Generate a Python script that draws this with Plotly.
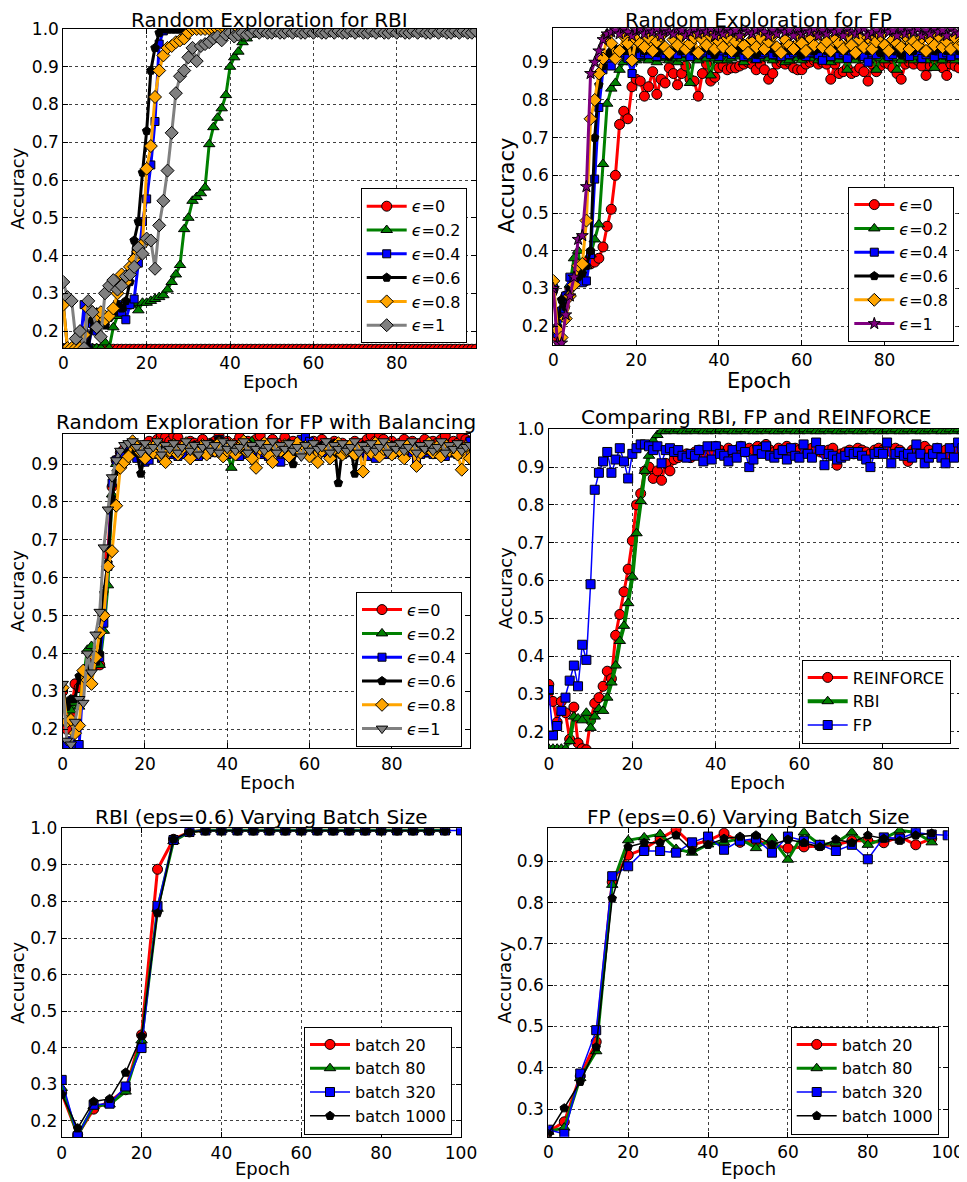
import plotly.graph_objects as go

# The page body has a default 8px margin, so the figure is drawn 8px smaller
# and every reference pixel position is shifted by that offset.
OFF = 8
W, H = 967 - OFF, 1182 - OFF

# ---------------- data ----------------
epochs = list(range(100))
batch_x_short = [0, 4, 8, 12, 16, 20, 24, 28, 32, 36, 40, 44, 48, 52, 56, 60, 64, 68, 72, 76, 80, 84, 88, 92, 96]
batch_x_long = [0, 4, 8, 12, 16, 20, 24, 28, 32, 36, 40, 44, 48, 52, 56, 60, 64, 68, 72, 76, 80, 84, 88, 92, 96, 100]

eps_labels = ["0", "0.2", "0.4", "0.6", "0.8", "1"]
cmp_labels = ["REINFORCE", "RBI", "FP"]
batch_labels = ["batch 20", "batch 80", "batch 320", "batch 1000"]

# Panel 1: Random Exploration for RBI
rbi_eps0 = [0.152, 0.152, 0.152, 0.152, 0.152, 0.152, 0.152, 0.152, 0.152, 0.152,
            0.152, 0.152, 0.152, 0.152, 0.152, 0.152, 0.152, 0.152, 0.152, 0.152,
            0.152, 0.152, 0.152, 0.152, 0.152, 0.152, 0.152, 0.152, 0.152, 0.152,
            0.152, 0.152, 0.152, 0.152, 0.152, 0.152, 0.152, 0.152, 0.152, 0.152,
            0.152, 0.152, 0.152, 0.152, 0.152, 0.152, 0.152, 0.152, 0.152, 0.152,
            0.152, 0.152, 0.152, 0.152, 0.152, 0.152, 0.152, 0.152, 0.152, 0.152,
            0.152, 0.152, 0.152, 0.152, 0.152, 0.152, 0.152, 0.152, 0.152, 0.152,
            0.152, 0.152, 0.152, 0.152, 0.152, 0.152, 0.152, 0.152, 0.152, 0.152,
            0.152, 0.152, 0.152, 0.152, 0.152, 0.152, 0.152, 0.152, 0.152, 0.152,
            0.152, 0.152, 0.152, 0.152, 0.152, 0.152, 0.152, 0.152, 0.152, 0.152]
rbi_eps02 = [0.155, 0.155, 0.155, 0.155, 0.155, 0.155, 0.155, 0.155, 0.155, 0.155,
             0.170, 0.155, 0.210, 0.240, 0.260, 0.265, 0.270, 0.275, 0.255, 0.275,
             0.275, 0.280, 0.285, 0.290, 0.295, 0.310, 0.330, 0.350, 0.375, 0.470,
             0.500, 0.545, 0.555, 0.565, 0.580, 0.695, 0.740, 0.765, 0.790, 0.825,
             0.900, 0.925, 0.940, 0.965, 0.975, 0.985, 0.990, 0.995, 0.995, 1.000,
             0.995, 1.000, 0.995, 0.995, 1.000, 0.995, 1.000, 0.995, 0.995, 1.000,
             0.995, 1.000, 0.995, 1.000, 0.995, 0.995, 1.000, 0.995, 1.000, 0.995,
             0.995, 1.000, 0.995, 1.000, 0.995, 0.995, 1.000, 0.995, 1.000, 0.995,
             0.995, 1.000, 0.995, 1.000, 0.995, 0.995, 1.000, 0.995, 1.000, 0.995,
             0.995, 1.000, 0.995, 1.000, 0.995, 0.995, 1.000, 0.995, 1.000, 0.995]
rbi_eps04 = [0.155, 0.155, 0.155, 0.155, 0.155, 0.270, 0.155, 0.220, 0.200, 0.230,
             0.220, 0.240, 0.250, 0.270, 0.250, 0.230, 0.270, 0.285, 0.380, 0.490,
             0.550, 0.640, 0.755, 0.960, 0.995, 1.000, 1.000, 1.000, 1.000, 1.000,
             1.000, 1.000, 1.000, 1.000, 1.000, 1.000, 1.000, 1.000, 1.000, 1.000,
             1.000, 1.000, 1.000, 1.000, 1.000, 1.000, 1.000, 1.000, 1.000, 1.000,
             1.000, 1.000, 1.000, 1.000, 1.000, 1.000, 1.000, 1.000, 1.000, 1.000,
             1.000, 1.000, 1.000, 1.000, 1.000, 1.000, 1.000, 1.000, 1.000, 1.000,
             1.000, 1.000, 1.000, 1.000, 1.000, 1.000, 1.000, 1.000, 1.000, 1.000,
             1.000, 1.000, 1.000, 1.000, 1.000, 1.000, 1.000, 1.000, 1.000, 1.000,
             1.000, 1.000, 1.000, 1.000, 1.000, 1.000, 1.000, 1.000, 1.000, 1.000]
rbi_eps06 = [0.270, 0.155, 0.155, 0.155, 0.155, 0.200, 0.155, 0.230, 0.250, 0.220,
             0.215, 0.235, 0.250, 0.270, 0.260, 0.280, 0.330, 0.440, 0.490, 0.620,
             0.730, 0.890, 0.950, 0.990, 1.000, 1.000, 1.000, 1.000, 1.000, 1.000,
             1.000, 1.000, 1.000, 1.000, 1.000, 1.000, 1.000, 1.000, 1.000, 1.000,
             1.000, 1.000, 1.000, 1.000, 1.000, 1.000, 1.000, 1.000, 1.000, 1.000,
             1.000, 1.000, 1.000, 1.000, 1.000, 1.000, 1.000, 1.000, 1.000, 1.000,
             1.000, 1.000, 1.000, 1.000, 1.000, 1.000, 1.000, 1.000, 1.000, 1.000,
             1.000, 1.000, 1.000, 1.000, 1.000, 1.000, 1.000, 1.000, 1.000, 1.000,
             1.000, 1.000, 1.000, 1.000, 1.000, 1.000, 1.000, 1.000, 1.000, 1.000,
             1.000, 1.000, 1.000, 1.000, 1.000, 1.000, 1.000, 1.000, 1.000, 1.000]
rbi_eps08 = [0.270, 0.155, 0.155, 0.155, 0.155, 0.190, 0.260, 0.250, 0.240, 0.250,
             0.230, 0.240, 0.260, 0.300, 0.350, 0.330, 0.370, 0.390, 0.410, 0.430,
             0.630, 0.690, 0.820, 0.890, 0.930, 0.950, 0.955, 0.965, 0.970, 0.975,
             0.990, 1.000, 1.000, 1.000, 1.000, 1.000, 1.000, 1.000, 1.000, 1.000,
             1.000, 1.000, 1.000, 1.000, 1.000, 1.000, 1.000, 1.000, 1.000, 1.000,
             1.000, 1.000, 1.000, 1.000, 1.000, 1.000, 1.000, 1.000, 1.000, 1.000,
             1.000, 1.000, 1.000, 1.000, 1.000, 1.000, 1.000, 1.000, 1.000, 1.000,
             1.000, 1.000, 1.000, 1.000, 1.000, 1.000, 1.000, 1.000, 1.000, 1.000,
             1.000, 1.000, 1.000, 1.000, 1.000, 1.000, 1.000, 1.000, 1.000, 1.000,
             1.000, 1.000, 1.000, 1.000, 1.000, 1.000, 1.000, 1.000, 1.000, 1.000]
rbi_eps1 = [0.330, 0.290, 0.280, 0.180, 0.200, 0.155, 0.280, 0.250, 0.210, 0.185,
            0.300, 0.320, 0.335, 0.310, 0.320, 0.345, 0.350, 0.370, 0.420, 0.405,
            0.445, 0.440, 0.365, 0.480, 0.545, 0.625, 0.725, 0.830, 0.875, 0.890,
            0.925, 0.950, 0.915, 0.955, 0.960, 0.965, 0.975, 0.980, 0.970, 0.985,
            0.990, 0.980, 0.985, 0.990, 0.985, 0.990, 0.995, 0.990, 0.995, 0.990,
            0.990, 0.995, 0.990, 0.990, 0.995, 0.990, 0.995, 0.990, 0.990, 0.995,
            0.990, 0.995, 0.990, 0.990, 0.995, 0.990, 0.995, 0.990, 0.990, 0.995,
            0.990, 0.995, 0.990, 0.990, 0.995, 0.990, 0.995, 0.990, 0.990, 0.995,
            0.990, 0.995, 0.990, 0.990, 0.995, 0.990, 0.995, 0.990, 0.990, 0.995,
            0.990, 0.995, 0.990, 0.990, 0.995, 0.990, 0.995, 0.990, 0.990, 0.995]

# Panel 2: Random Exploration for FP
fp_eps0 = [0.300, 0.170, 0.240, 0.280, 0.300, 0.320, 0.350, 0.360, 0.370, 0.365,
           0.370, 0.380, 0.410, 0.465, 0.510, 0.600, 0.735, 0.770, 0.750, 0.835,
           0.855, 0.850, 0.810, 0.835, 0.875, 0.815, 0.855, 0.845, 0.885, 0.870,
           0.840, 0.870, 0.890, 0.855, 0.850, 0.810, 0.870, 0.895, 0.850, 0.860,
           0.885, 0.890, 0.880, 0.885, 0.885, 0.890, 0.895, 0.900, 0.895, 0.880,
           0.895, 0.880, 0.855, 0.870, 0.895, 0.900, 0.895, 0.900, 0.885, 0.880,
           0.880, 0.895, 0.900, 0.905, 0.895, 0.900, 0.895, 0.855, 0.895, 0.870,
           0.875, 0.885, 0.870, 0.875, 0.885, 0.875, 0.850, 0.895, 0.875, 0.890,
           0.900, 0.895, 0.885, 0.870, 0.855, 0.895, 0.900, 0.895, 0.905, 0.890,
           0.865, 0.890, 0.895, 0.900, 0.885, 0.865, 0.895, 0.890, 0.885, 0.900]
fp_eps02 = [0.310, 0.190, 0.220, 0.280, 0.310, 0.380, 0.400, 0.315, 0.360, 0.390,
            0.430, 0.470, 0.630, 0.790, 0.830, 0.845, 0.880, 0.900, 0.910, 0.900,
            0.905, 0.910, 0.915, 0.905, 0.920, 0.900, 0.910, 0.915, 0.905, 0.910,
            0.900, 0.910, 0.920, 0.845, 0.910, 0.905, 0.915, 0.910, 0.865, 0.910,
            0.905, 0.915, 0.905, 0.910, 0.920, 0.915, 0.900, 0.910, 0.915, 0.905,
            0.910, 0.920, 0.910, 0.905, 0.915, 0.910, 0.900, 0.905, 0.915, 0.910,
            0.905, 0.915, 0.910, 0.920, 0.905, 0.910, 0.915, 0.900, 0.910, 0.905,
            0.915, 0.880, 0.910, 0.905, 0.915, 0.910, 0.905, 0.915, 0.880, 0.910,
            0.905, 0.915, 0.910, 0.880, 0.905, 0.915, 0.910, 0.905, 0.915, 0.910,
            0.905, 0.920, 0.885, 0.910, 0.905, 0.915, 0.910, 0.905, 0.915, 0.920]
fp_eps04 = [0.300, 0.180, 0.240, 0.280, 0.330, 0.320, 0.330, 0.315, 0.320, 0.390,
            0.590, 0.780, 0.880, 0.910, 0.890, 0.915, 0.920, 0.925, 0.910, 0.870,
            0.915, 0.920, 0.925, 0.920, 0.930, 0.915, 0.925, 0.920, 0.930, 0.925,
            0.920, 0.930, 0.925, 0.915, 0.930, 0.920, 0.925, 0.930, 0.920, 0.925,
            0.915, 0.930, 0.925, 0.920, 0.930, 0.925, 0.915, 0.920, 0.930, 0.910,
            0.920, 0.925, 0.930, 0.920, 0.925, 0.915, 0.930, 0.920, 0.925, 0.930,
            0.920, 0.915, 0.925, 0.930, 0.920, 0.905, 0.925, 0.915, 0.930, 0.920,
            0.925, 0.910, 0.930, 0.920, 0.925, 0.915, 0.900, 0.925, 0.920, 0.930,
            0.925, 0.915, 0.920, 0.930, 0.925, 0.920, 0.915, 0.930, 0.925, 0.910,
            0.920, 0.925, 0.915, 0.930, 0.920, 0.925, 0.915, 0.930, 0.920, 0.925]
fp_eps06 = [0.290, 0.200, 0.270, 0.250, 0.300, 0.310, 0.330, 0.340, 0.360, 0.400,
            0.700, 0.840, 0.890, 0.920, 0.930, 0.935, 0.935, 0.930, 0.940, 0.925,
            0.935, 0.940, 0.930, 0.945, 0.935, 0.925, 0.940, 0.930, 0.915, 0.935,
            0.940, 0.930, 0.935, 0.945, 0.930, 0.925, 0.935, 0.940, 0.930, 0.920,
            0.935, 0.945, 0.930, 0.935, 0.925, 0.940, 0.930, 0.935, 0.945, 0.920,
            0.935, 0.930, 0.940, 0.935, 0.925, 0.940, 0.935, 0.930, 0.945, 0.930,
            0.920, 0.935, 0.940, 0.930, 0.935, 0.945, 0.930, 0.925, 0.940, 0.935,
            0.930, 0.945, 0.935, 0.920, 0.935, 0.940, 0.930, 0.935, 0.945, 0.925,
            0.935, 0.940, 0.930, 0.935, 0.920, 0.940, 0.935, 0.930, 0.945, 0.935,
            0.925, 0.940, 0.930, 0.935, 0.945, 0.930, 0.935, 0.940, 0.930, 0.935]
fp_eps08 = [0.320, 0.190, 0.170, 0.220, 0.280, 0.310, 0.360, 0.365, 0.480, 0.750,
            0.800, 0.870, 0.910, 0.970, 0.950, 0.910, 0.930, 0.970, 0.950, 0.905,
            0.960, 0.950, 0.940, 0.965, 0.930, 0.955, 0.970, 0.940, 0.925, 0.960,
            0.945, 0.970, 0.935, 0.950, 0.965, 0.925, 0.960, 0.945, 0.970, 0.935,
            0.955, 0.940, 0.965, 0.930, 0.955, 0.970, 0.945, 0.925, 0.960, 0.940,
            0.965, 0.935, 0.955, 0.970, 0.940, 0.925, 0.960, 0.945, 0.935, 0.970,
            0.950, 0.930, 0.965, 0.945, 0.975, 0.940, 0.955, 0.930, 0.965, 0.950,
            0.935, 0.970, 0.945, 0.925, 0.960, 0.940, 0.965, 0.935, 0.955, 0.970,
            0.945, 0.930, 0.960, 0.950, 0.940, 0.970, 0.935, 0.955, 0.945, 0.965,
            0.930, 0.960, 0.945, 0.970, 0.940, 0.955, 0.935, 0.965, 0.945, 0.950]
fp_eps1 = [0.300, 0.155, 0.155, 0.230, 0.280, 0.330, 0.430, 0.440, 0.570, 0.870,
           0.900, 0.930, 0.960, 0.975, 0.980, 0.985, 0.975, 0.990, 0.980, 0.970,
           0.985, 0.990, 0.975, 0.985, 0.980, 0.990, 0.970, 0.985, 0.980, 0.975,
           0.990, 0.985, 0.970, 0.980, 0.990, 0.975, 0.985, 0.980, 0.990, 0.970,
           0.985, 0.975, 0.990, 0.980, 0.985, 0.970, 0.990, 0.980, 0.975, 0.985,
           0.990, 0.980, 0.970, 0.985, 0.975, 0.990, 0.980, 0.985, 0.970, 0.990,
           0.975, 0.985, 0.980, 0.990, 0.970, 0.985, 0.975, 0.990, 0.980, 0.985,
           0.970, 0.990, 0.980, 0.975, 0.985, 0.990, 0.970, 0.980, 0.985, 0.975,
           0.990, 0.980, 0.985, 0.970, 0.990, 0.975, 0.985, 0.980, 0.990, 0.970,
           0.985, 0.975, 0.990, 0.980, 0.985, 0.970, 0.990, 0.980, 0.975, 0.985]

# Panel 3: Random Exploration for FP with Balancing
bal_eps0 = [0.300, 0.200, 0.240, 0.320, 0.310, 0.330, 0.360, 0.380, 0.370, 0.370,
            0.500, 0.660, 0.840, 0.910, 0.930, 0.940, 0.950, 0.955, 0.945, 0.935,
            0.950, 0.960, 0.945, 0.965, 0.975, 0.970, 0.960, 0.975, 0.970, 0.950,
            0.945, 0.960, 0.955, 0.950, 0.965, 0.945, 0.955, 0.960, 0.975, 0.950,
            0.960, 0.945, 0.955, 0.970, 0.950, 0.960, 0.945, 0.965, 0.975, 0.955,
            0.950, 0.965, 0.945, 0.955, 0.970, 0.950, 0.960, 0.945, 0.955, 0.965,
            0.945, 0.960, 0.950, 0.965, 0.955, 0.945, 0.960, 0.950, 0.955, 0.945,
            0.950, 0.960, 0.945, 0.955, 0.965, 0.975, 0.960, 0.975, 0.965, 0.950,
            0.960, 0.945, 0.955, 0.965, 0.950, 0.960, 0.945, 0.955, 0.965, 0.950,
            0.960, 0.955, 0.965, 0.975, 0.950, 0.960, 0.955, 0.975, 0.965, 0.960]
bal_eps02 = [0.280, 0.220, 0.250, 0.270, 0.260, 0.340, 0.410, 0.420, 0.370, 0.370,
             0.460, 0.580, 0.820, 0.900, 0.920, 0.930, 0.935, 0.940, 0.930, 0.925,
             0.935, 0.940, 0.930, 0.945, 0.935, 0.925, 0.940, 0.935, 0.930, 0.945,
             0.935, 0.925, 0.940, 0.930, 0.935, 0.945, 0.930, 0.940, 0.935, 0.925,
             0.930, 0.890, 0.935, 0.940, 0.930, 0.945, 0.960, 0.935, 0.925, 0.940,
             0.935, 0.930, 0.945, 0.935, 0.925, 0.940, 0.930, 0.935, 0.945, 0.930,
             0.925, 0.940, 0.935, 0.930, 0.945, 0.935, 0.930, 0.940, 0.925, 0.935,
             0.945, 0.930, 0.935, 0.940, 0.925, 0.935, 0.945, 0.930, 0.935, 0.940,
             0.930, 0.945, 0.935, 0.925, 0.940, 0.930, 0.945, 0.935, 0.930, 0.925,
             0.940, 0.935, 0.930, 0.945, 0.935, 0.925, 0.940, 0.930, 0.935, 0.940]
bal_eps04 = [0.150, 0.160, 0.170, 0.160, 0.160, 0.330, 0.360, 0.370, 0.380, 0.390,
             0.480, 0.630, 0.850, 0.910, 0.930, 0.920, 0.935, 0.925, 0.915, 0.930,
             0.905, 0.910, 0.925, 0.930, 0.915, 0.935, 0.925, 0.930, 0.920, 0.935,
             0.925, 0.930, 0.935, 0.920, 0.930, 0.925, 0.935, 0.930, 0.965, 0.930,
             0.925, 0.935, 0.930, 0.920, 0.935, 0.925, 0.930, 0.935, 0.925, 0.930,
             0.920, 0.935, 0.930, 0.905, 0.930, 0.925, 0.935, 0.930, 0.965, 0.970,
             0.960, 0.930, 0.925, 0.935, 0.930, 0.920, 0.935, 0.930, 0.925, 0.935,
             0.930, 0.925, 0.935, 0.930, 0.920, 0.935, 0.915, 0.930, 0.925, 0.935,
             0.925, 0.935, 0.930, 0.920, 0.935, 0.930, 0.910, 0.925, 0.935, 0.930,
             0.925, 0.935, 0.930, 0.920, 0.935, 0.930, 0.925, 0.935, 0.930, 0.960]
bal_eps06 = [0.310, 0.260, 0.280, 0.280, 0.340, 0.330, 0.350, 0.370, 0.380, 0.400,
             0.560, 0.640, 0.810, 0.880, 0.900, 0.910, 0.930, 0.935, 0.930, 0.875,
             0.930, 0.940, 0.935, 0.945, 0.950, 0.940, 0.945, 0.955, 0.935, 0.940,
             0.945, 0.940, 0.950, 0.935, 0.945, 0.940, 0.955, 0.945, 0.965, 0.940,
             0.945, 0.950, 0.940, 0.935, 0.945, 0.955, 0.940, 0.945, 0.950, 0.940,
             0.945, 0.935, 0.950, 0.940, 0.945, 0.955, 0.900, 0.945, 0.940, 0.950,
             0.945, 0.940, 0.935, 0.950, 0.945, 0.940, 0.955, 0.850, 0.945, 0.940,
             0.945, 0.875, 0.940, 0.950, 0.945, 0.940, 0.935, 0.950, 0.945, 0.940,
             0.950, 0.945, 0.940, 0.935, 0.945, 0.950, 0.940, 0.945, 0.935, 0.940,
             0.945, 0.940, 0.950, 0.935, 0.945, 0.940, 0.950, 0.945, 0.940, 0.945]
bal_eps08 = [0.310, 0.220, 0.225, 0.190, 0.210, 0.355, 0.330, 0.320, 0.390, 0.455,
             0.500, 0.630, 0.670, 0.790, 0.890, 0.905, 0.920, 0.960, 0.945, 0.930,
             0.915, 0.945, 0.930, 0.955, 0.920, 0.905, 0.935, 0.950, 0.925, 0.940,
             0.955, 0.915, 0.940, 0.930, 0.950, 0.925, 0.945, 0.935, 0.955, 0.920,
             0.935, 0.950, 0.925, 0.945, 0.960, 0.930, 0.915, 0.890, 0.940, 0.955,
             0.925, 0.905, 0.945, 0.935, 0.950, 0.920, 0.940, 0.955, 0.930, 0.945,
             0.920, 0.950, 0.905, 0.935, 0.945, 0.915, 0.940, 0.955, 0.925, 0.935,
             0.950, 0.925, 0.940, 0.880, 0.945, 0.930, 0.955, 0.920, 0.940, 0.950,
             0.925, 0.945, 0.935, 0.915, 0.950, 0.940, 0.895, 0.930, 0.945, 0.955,
             0.930, 0.945, 0.920, 0.950, 0.935, 0.940, 0.925, 0.885, 0.945, 0.915]
bal_eps1 = [0.320, 0.170, 0.160, 0.220, 0.280, 0.270, 0.400, 0.350, 0.450, 0.510,
            0.680, 0.780, 0.865, 0.910, 0.935, 0.950, 0.955, 0.960, 0.945, 0.930,
            0.955, 0.935, 0.945, 0.960, 0.925, 0.950, 0.940, 0.955, 0.930, 0.945,
            0.960, 0.935, 0.950, 0.925, 0.945, 0.955, 0.935, 0.950, 0.930, 0.960,
            0.940, 0.955, 0.935, 0.945, 0.960, 0.930, 0.950, 0.940, 0.955, 0.935,
            0.945, 0.960, 0.930, 0.950, 0.940, 0.955, 0.935, 0.945, 0.920, 0.950,
            0.935, 0.955, 0.940, 0.945, 0.960, 0.930, 0.950, 0.940, 0.955, 0.935,
            0.945, 0.960, 0.930, 0.950, 0.940, 0.955, 0.935, 0.945, 0.960, 0.930,
            0.950, 0.940, 0.955, 0.935, 0.945, 0.960, 0.930, 0.950, 0.940, 0.955,
            0.935, 0.945, 0.960, 0.930, 0.950, 0.940, 0.955, 0.935, 0.945, 0.950]

# Panel 4: Comparing RBI, FP and REINFORCE
cmp_reinforce = [0.325, 0.280, 0.225, 0.280, 0.250, 0.180, 0.265, 0.170, 0.155, 0.152,
                 0.230, 0.275, 0.290, 0.320, 0.360, 0.340, 0.455, 0.510, 0.570, 0.630,
                 0.705, 0.800, 0.830, 0.890, 0.900, 0.870, 0.890, 0.865, 0.910, 0.890,
                 0.920, 0.925, 0.930, 0.935, 0.925, 0.940, 0.945, 0.935, 0.950, 0.940,
                 0.955, 0.945, 0.935, 0.950, 0.940, 0.945, 0.955, 0.940, 0.950, 0.945,
                 0.955, 0.950, 0.960, 0.945, 0.940, 0.950, 0.945, 0.955, 0.940, 0.950,
                 0.945, 0.955, 0.940, 0.950, 0.945, 0.940, 0.935, 0.945, 0.950, 0.905,
                 0.935, 0.940, 0.945, 0.935, 0.950, 0.945, 0.940, 0.935, 0.945, 0.950,
                 0.945, 0.955, 0.940, 0.950, 0.945, 0.935, 0.915, 0.945, 0.950, 0.940,
                 0.955, 0.945, 0.935, 0.950, 0.940, 0.945, 0.930, 0.950, 0.945, 0.955]
cmp_rbi = [0.155, 0.155, 0.155, 0.155, 0.155, 0.175, 0.240, 0.235, 0.230, 0.250,
           0.210, 0.240, 0.260, 0.255, 0.290, 0.330, 0.375, 0.440, 0.480, 0.540,
           0.610, 0.725, 0.810, 0.890, 0.930, 0.970, 0.985, 0.995, 0.995, 1.000,
           0.995, 1.000, 0.995, 0.995, 1.000, 0.995, 1.000, 0.995, 0.995, 1.000,
           0.995, 1.000, 0.995, 1.000, 0.995, 0.995, 1.000, 0.995, 1.000, 0.995,
           0.995, 1.000, 0.995, 1.000, 0.995, 0.995, 1.000, 0.995, 1.000, 0.995,
           0.995, 1.000, 0.995, 1.000, 0.995, 0.995, 1.000, 0.995, 1.000, 0.995,
           0.995, 1.000, 0.995, 1.000, 0.995, 0.995, 1.000, 0.995, 1.000, 0.995,
           0.995, 1.000, 0.995, 1.000, 0.995, 0.995, 1.000, 0.995, 1.000, 0.995,
           0.995, 1.000, 0.995, 1.000, 0.995, 0.995, 1.000, 0.995, 1.000, 0.995]
cmp_fp = [0.310, 0.190, 0.215, 0.255, 0.290, 0.335, 0.375, 0.320, 0.430, 0.390,
          0.590, 0.840, 0.885, 0.915, 0.940, 0.885, 0.920, 0.950, 0.915, 0.870,
          0.935, 0.950, 0.960, 0.960, 0.955, 0.945, 0.955, 0.910, 0.945, 0.950,
          0.940, 0.945, 0.930, 0.925, 0.935, 0.930, 0.945, 0.915, 0.955, 0.920,
          0.955, 0.935, 0.930, 0.915, 0.945, 0.925, 0.955, 0.940, 0.900, 0.920,
          0.945, 0.935, 0.955, 0.930, 0.925, 0.935, 0.945, 0.920, 0.950, 0.930,
          0.925, 0.960, 0.935, 0.925, 0.965, 0.945, 0.905, 0.935, 0.930, 0.920,
          0.925, 0.930, 0.940, 0.935, 0.940, 0.930, 0.920, 0.900, 0.935, 0.940,
          0.935, 0.965, 0.910, 0.935, 0.940, 0.930, 0.935, 0.925, 0.960, 0.935,
          0.910, 0.925, 0.935, 0.950, 0.925, 0.910, 0.950, 0.925, 0.965, 0.950]

# Panel 5: RBI (eps=0.6) Varying Batch Size
rbi_b20 = [0.276, 0.162, 0.232, 0.253, 0.285, 0.435, 0.888, 0.970, 0.990, 0.995,
           0.995, 0.995, 0.995, 0.995, 0.995, 0.995, 0.995, 0.995, 0.995, 0.995,
           0.995, 0.995, 0.995, 0.995, 0.995]
rbi_b80 = [0.290, 0.160, 0.240, 0.245, 0.280, 0.420, 0.780, 0.965, 0.990, 0.995,
           0.995, 0.995, 0.995, 0.995, 0.995, 0.995, 0.995, 0.995, 0.995, 0.995,
           0.995, 0.995, 0.995, 0.995, 0.995]
rbi_b320 = [0.312, 0.158, 0.244, 0.247, 0.294, 0.399, 0.788, 0.968, 0.990, 0.994,
            0.994, 0.994, 0.994, 0.994, 0.994, 0.994, 0.994, 0.994, 0.994, 0.994,
            0.994, 0.994, 0.994, 0.994, 0.994, 0.994]
rbi_b1000 = [0.272, 0.180, 0.253, 0.260, 0.332, 0.432, 0.768, 0.970, 0.990, 0.993,
             0.993, 0.993, 0.993, 0.993, 0.993, 0.993, 0.993, 0.993, 0.993, 0.993,
             0.993, 0.993, 0.993, 0.993, 0.993]

# Panel 6: FP (eps=0.6) Varying Batch Size
fpb_b20 = [0.245, 0.269, 0.380, 0.463, 0.850, 0.915, 0.930, 0.955, 0.977, 0.940,
           0.950, 0.968, 0.946, 0.950, 0.940, 0.932, 0.935, 0.938, 0.940, 0.950,
           0.950, 0.945, 0.960, 0.940, 0.955]
fpb_b80 = [0.245, 0.255, 0.375, 0.440, 0.843, 0.951, 0.958, 0.966, 0.930, 0.921,
           0.941, 0.946, 0.955, 0.932, 0.955, 0.904, 0.970, 0.940, 0.945, 0.970,
           0.940, 0.955, 0.975, 0.970, 0.946]
fpb_b320 = [0.250, 0.240, 0.386, 0.491, 0.864, 0.888, 0.925, 0.925, 0.921, 0.946,
            0.960, 0.928, 0.950, 0.955, 0.921, 0.960, 0.950, 0.940, 0.925, 0.940,
            0.905, 0.958, 0.955, 0.970, 0.965, 0.963]
fpb_b1000 = [0.240, 0.302, 0.366, 0.450, 0.810, 0.935, 0.945, 0.945, 0.963, 0.926,
             0.940, 0.955, 0.960, 0.963, 0.940, 0.953, 0.945, 0.935, 0.953, 0.945,
             0.963, 0.955, 0.950, 0.963, 0.968]

# ---------------- styling ----------------
RED, GREEN, BLUE, BLACK = "#ff0000", "#008000", "#0000ff", "#000000"
ORANGE, GRAY, PURPLE = "#ffa500", "#808080", "#800080"
FONT = "DejaVu Sans"


def px2x(px):
    return (px - OFF) / W


def px2y(py):
    return 1 - (py - OFF) / H


fig = go.Figure()


def ax_names(p):
    return ("x" if p == 1 else f"x{p}"), ("y" if p == 1 else f"y{p}")


def add(p, x, y, name, color, symbol, lw, ms):
    xa, ya = ax_names(p)
    fig.add_trace(go.Scatter(
        x=x, y=y, name=name, mode="lines+markers",
        xaxis=xa, yaxis=ya,
        line=dict(color=color, width=lw),
        marker=dict(symbol=symbol, size=ms, color=color, line=dict(color="black", width=1)),
        legend="legend" if p == 1 else f"legend{p}",
        legendgroup=f"g{p}_{name}",
    ))


def eps_name(v):
    return "<i>\u03f5</i>=" + v


p1 = [(rbi_eps0, RED, "circle", 10), (rbi_eps02, GREEN, "triangle-up", 10),
      (rbi_eps04, BLUE, "square", 8), (rbi_eps06, BLACK, "pentagon", 9),
      (rbi_eps08, ORANGE, "diamond", 10), (rbi_eps1, GRAY, "diamond", 10)]
for (ys, c, s, m), lab in zip(p1, eps_labels):
    add(1, epochs, ys, eps_name(lab), c, s, 3, m)

p2 = [(fp_eps0, RED, "circle", 10), (fp_eps02, GREEN, "triangle-up", 10),
      (fp_eps04, BLUE, "square", 8), (fp_eps06, BLACK, "pentagon", 9),
      (fp_eps08, ORANGE, "diamond", 10), (fp_eps1, PURPLE, "star", 9)]
for (ys, c, s, m), lab in zip(p2, eps_labels):
    add(2, epochs, ys, eps_name(lab), c, s, 3, m)

p3 = [(bal_eps0, RED, "circle", 10), (bal_eps02, GREEN, "triangle-up", 10),
      (bal_eps04, BLUE, "square", 8), (bal_eps06, BLACK, "pentagon", 9),
      (bal_eps08, ORANGE, "diamond", 10), (bal_eps1, GRAY, "triangle-down", 10)]
for (ys, c, s, m), lab in zip(p3, eps_labels):
    add(3, epochs, ys, eps_name(lab), c, s, 3, m)

add(4, epochs, cmp_reinforce, cmp_labels[0], RED, "circle", 3, 10)
add(4, epochs, cmp_rbi, cmp_labels[1], GREEN, "triangle-up", 4, 10)
add(4, epochs, cmp_fp, cmp_labels[2], BLUE, "square", 1.5, 9)

add(5, batch_x_short, rbi_b20, batch_labels[0], RED, "circle", 3, 10)
add(5, batch_x_short, rbi_b80, batch_labels[1], GREEN, "triangle-up", 3, 10)
add(5, batch_x_long, rbi_b320, batch_labels[2], BLUE, "square", 1.5, 9)
add(5, batch_x_short, rbi_b1000, batch_labels[3], BLACK, "pentagon", 1.5, 9)

add(6, batch_x_short, fpb_b20, batch_labels[0], RED, "circle", 3, 10)
add(6, batch_x_short, fpb_b80, batch_labels[1], GREEN, "triangle-up", 3, 10)
add(6, batch_x_long, fpb_b320, batch_labels[2], BLUE, "square", 1.5, 9)
add(6, batch_x_short, fpb_b1000, batch_labels[3], BLACK, "pentagon", 1.5, 9)

# panel geometry in reference pixels: (left, right, top, bottom), x range, y range
panels = {
    1: ((63.3, 476.0, 29.0, 347.7), [0, 99], [0.156, 1.0]),
    2: ((553.3, 963.3, 28.3, 345.0), [0, 99], [0.15, 0.99]),
    3: ((62.7, 470.0, 433.7, 748.3), [0, 99], [0.15, 0.98]),
    4: ((548.8, 962.3, 429.3, 748.3), [0, 99], [0.156, 1.0]),
    5: ((61.7, 461.0, 828.3, 1137.3), [0, 100], [0.155, 1.0]),
    6: ((548.3, 947.7, 828.3, 1136.7), [0, 100], [0.233, 0.98]),
}

axis_common = dict(
    showline=True, linecolor="black", linewidth=1, mirror="ticks",
    ticks="inside", ticklen=5, tickcolor="black", tickwidth=1,
    showgrid=True, gridcolor="rgba(0,0,0,0.75)", gridwidth=1, griddash="dot",
    zeroline=False, tickfont=dict(family=FONT, size=17, color="black"),
)

layout = dict(
    width=W, height=H, autosize=False,
    margin=dict(l=0, r=0, t=0, b=0, autoexpand=False),
    paper_bgcolor="white", plot_bgcolor="white",
    font=dict(family=FONT, color="black"),
)

for p, ((l, r, t, b), xr, yr) in panels.items():
    xa, ya = ax_names(p)
    xkey = "xaxis" if p == 1 else f"xaxis{p}"
    ykey = "yaxis" if p == 1 else f"yaxis{p}"
    layout[xkey] = dict(axis_common, domain=[px2x(l), px2x(r)], range=xr, anchor=ya,
                        tick0=0, dtick=20)
    layout[ykey] = dict(axis_common, domain=[px2y(b), px2y(t)], range=yr, anchor=xa,
                        tick0=0, dtick=0.1, tickformat=".1f")

legend_pos = {1: (360.7, 188.3), 2: (848.3, 186.7), 3: (356.0, 591.7),
              4: (801.7, 659.5), 5: (304.0, 1026.5), 6: (790.7, 1026.5)}
for p, (lx, ly) in legend_pos.items():
    key = "legend" if p == 1 else f"legend{p}"
    layout[key] = dict(
        x=px2x(lx), y=px2y(ly), xanchor="left", yanchor="top",
        xref="paper", yref="paper",
        bgcolor="white", bordercolor="black", borderwidth=1,
        font=dict(family=FONT, size=16, color="black"),
        tracegroupgap=0, itemwidth=40,
    )

fig.update_layout(**layout)

titles = {1: "Random Exploration for RBI", 2: "Random Exploration for FP",
          3: "Random Exploration for FP with Balancing",
          4: "Comparing RBI, FP and REINFORCE",
          5: "RBI (eps=0.6) Varying Batch Size", 6: "FP (eps=0.6) Varying Batch Size"}
title_y = {1: 20.0, 2: 20.0, 3: 422.0, 4: 416.7, 5: 816.7, 6: 816.7}
xlabel_pos = {1: (270.8, 381.5), 2: (759.2, 380.8), 3: (267.8, 782.5),
              4: (757.5, 782.5), 5: (262.0, 1168.5), 6: (748.7, 1168.5)}
ylabel_pos = {1: (17.5, 188.3), 2: (506.7, 185.8), 3: (17.5, 590.8),
              4: (505.0, 588.3), 5: (17.5, 982.5), 6: (504.2, 982.5)}
label_size = {1: 18, 2: 21, 3: 18, 4: 18, 5: 18, 6: 18}

annotations = []
for p, ((l, r, t, b), xr, yr) in panels.items():
    annotations.append(dict(text=titles[p], x=px2x((l + r) / 2), y=px2y(title_y[p]),
                            xref="paper", yref="paper", xanchor="center", yanchor="middle",
                            borderpad=0, showarrow=False,
                            font=dict(family=FONT, size=20, color="black")))
    xl, yl = xlabel_pos[p]
    annotations.append(dict(text="Epoch", x=px2x(xl), y=px2y(yl),
                            xref="paper", yref="paper", xanchor="center", yanchor="middle",
                            borderpad=0, showarrow=False,
                            font=dict(family=FONT, size=label_size[p], color="black")))
    xl, yl = ylabel_pos[p]
    annotations.append(dict(text="Accuracy", x=px2x(xl), y=px2y(yl), textangle=-90,
                            xref="paper", yref="paper", xanchor="center", yanchor="middle",
                            borderpad=0, showarrow=False,
                            font=dict(family=FONT, size=label_size[p], color="black")))
fig.update_layout(annotations=annotations)

fig.write_html("out.html")
